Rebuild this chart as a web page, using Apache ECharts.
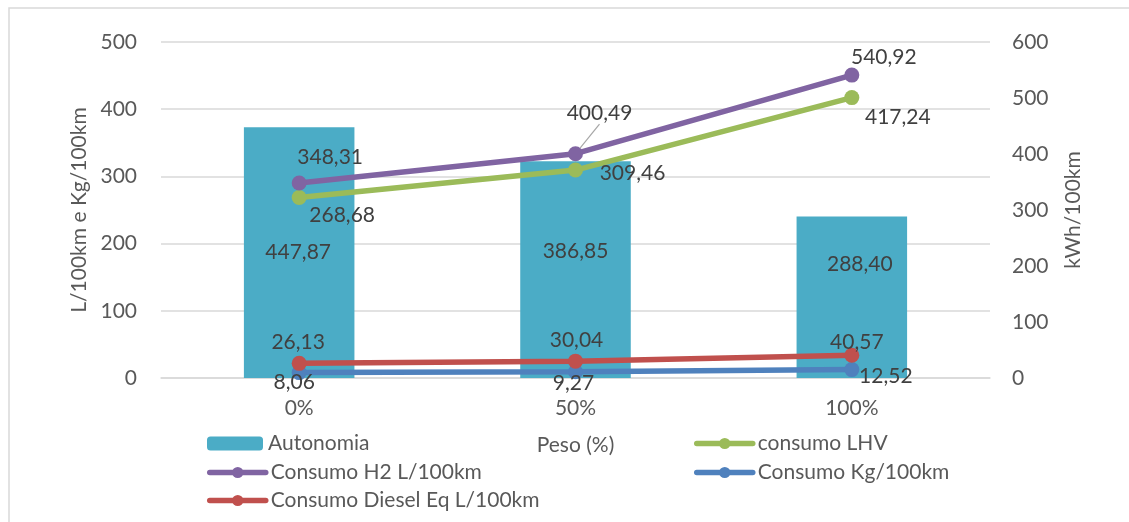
<!DOCTYPE html>
<html>
<head>
<meta charset="utf-8">
<script src="https://cdn.jsdelivr.net/npm/echarts@6/dist/echarts.min.js"></script>
<style>
  html, body { margin: 0; padding: 0; background: #ffffff; }
  #chart { width: 1129px; height: 522px; }
</style>
</head>
<body>
<div id="chart"></div>
<script>
// Categories (peso)
const categories = ['0%', '50%', '100%'];

// Series values
const autonomia = [447.87, 386.85, 288.40];
const consumoLHV = [268.68, 309.46, 417.24];
const consumoH2 = [348.31, 400.49, 540.92];
const consumoKg = [8.06, 9.27, 12.52];
const consumoDiesel = [26.13, 30.04, 40.57];

// Axis ranges / ticks
const leftAxis = { min: 0, max: 500, interval: 100 };
const rightAxis = { min: 0, max: 600, interval: 100 };

// Label placement relative to each mark (dx, dy in px)
const labelShift = {
  'Autonomia': [[-1, 0], [0, -18], [8, -33]],
  'consumo LHV': [[43, 18], [57, 3], [46, 20]],
  'Consumo H2 L/100km': [[31, -26], [24, -40], [32, -18]],
  'Consumo Kg/100km': [[-5, 10], [-2, 11], [34, 7]],
  'Consumo Diesel Eq L/100km': [[-1, -21], [1, -21], [5, -13]]
};

const FONT = 'Lato';
const AXIS_TXT = '#595959';
const LABEL_TXT = '#404040';
const fmt = (p) => p.value.toFixed(2).replace('.', ',');

const chart = echarts.init(document.getElementById('chart'), null, { renderer: 'canvas' });

function lineSeries(name, values, color, axisIndex, z) {
  return {
    name: name,
    type: 'line',
    yAxisIndex: axisIndex,
    data: values.map((v, i) => (name === 'Consumo H2 L/100km' && i === 1)
      ? { value: v, labelLine: { show: true } }
      : { value: v }),
    symbol: 'circle',
    symbolSize: 15,
    z: z,
    lineStyle: { color: color, width: 5.5, cap: 'round' },
    itemStyle: { color: color },
    label: {
      show: true,
      position: 'inside',
      formatter: fmt,
      fontFamily: FONT,
      fontSize: 21,
      color: LABEL_TXT
    },
    labelLine: { show: false, lineStyle: { color: '#a6a6a6', width: 1.2 } },
    labelLayout: (p) => {
      const s = labelShift[name][p.dataIndex];
      return { dx: s[0], dy: s[1] };
    }
  };
}

const legendText = { fontFamily: FONT, fontSize: 21, color: AXIS_TXT };
function legendAt(name, left, top) {
  return {
    data: [name],
    left: left,
    top: top,
    itemWidth: 56,
    itemHeight: 14,
    itemGap: 0,
    padding: 0,
    textStyle: legendText,
    lineStyle: { width: 5.5, cap: 'round' },
    selectedMode: false
  };
}

const option = {
  backgroundColor: '#ffffff',
  animation: false,
  graphic: [{
    type: 'rect',
    shape: { x: 9, y: 8, width: 1300, height: 700 },
    style: { fill: 'none', stroke: '#d9d9d9', lineWidth: 1.5 },
    silent: true,
    z: -10
  }],
  grid: { left: 161, right: 139, top: 42, bottom: 144 },
  legend: [
    legendAt('Autonomia', 207, 433),
    legendAt('consumo LHV', 694, 433),
    legendAt('Consumo H2 L/100km', 207, 462),
    legendAt('Consumo Kg/100km', 694, 462),
    legendAt('Consumo Diesel Eq L/100km', 207, 490)
  ],
  xAxis: {
    type: 'category',
    data: categories,
    axisLine: { lineStyle: { color: '#d9d9d9', width: 1.5 } },
    axisTick: { show: false },
    axisLabel: { fontFamily: FONT, fontSize: 21, color: AXIS_TXT, margin: 20 },
    name: 'Peso (%)',
    nameLocation: 'middle',
    nameGap: 57,
    nameTextStyle: { fontFamily: FONT, fontSize: 21, color: AXIS_TXT }
  },
  yAxis: [{
    type: 'value',
    min: leftAxis.min, max: leftAxis.max, interval: leftAxis.interval,
    axisLine: { show: false },
    axisTick: { show: false },
    splitLine: { lineStyle: { color: '#d9d9d9', width: 1.5 } },
    axisLabel: { fontFamily: FONT, fontSize: 21, color: AXIS_TXT, margin: 24 },
    name: 'L/100km e Kg/100km',
    nameLocation: 'middle',
    nameGap: 69,
    nameTextStyle: { fontFamily: FONT, fontSize: 21, color: AXIS_TXT }
  }, {
    type: 'value',
    min: rightAxis.min, max: rightAxis.max, interval: rightAxis.interval,
    axisLine: { show: false },
    axisTick: { show: false },
    splitLine: { show: false },
    axisLabel: { fontFamily: FONT, fontSize: 21, color: AXIS_TXT, margin: 22 },
    name: 'kWh/100km',
    nameLocation: 'middle',
    nameGap: 73,
    nameTextStyle: { fontFamily: FONT, fontSize: 21, color: AXIS_TXT }
  }],
  series: [
    {
      name: 'Autonomia',
      type: 'bar',
      yAxisIndex: 1,
      data: autonomia,
      barWidth: '40%',
      itemStyle: { color: '#4BACC6' },
      label: {
        show: true,
        position: 'inside',
        formatter: fmt,
        fontFamily: FONT,
        fontSize: 21,
        color: LABEL_TXT
      },
      labelLayout: (p) => {
        const s = labelShift['Autonomia'][p.dataIndex];
        return { dx: s[0], dy: s[1] };
      }
    },
    lineSeries('consumo LHV', consumoLHV, '#9BBB59', 0, 3),
    lineSeries('Consumo H2 L/100km', consumoH2, '#8064A2', 1, 4),
    lineSeries('Consumo Kg/100km', consumoKg, '#4F81BD', 0, 3),
    lineSeries('Consumo Diesel Eq L/100km', consumoDiesel, '#C0504D', 1, 4)
  ]
};

chart.setOption(option);
</script>
</body>
</html>
